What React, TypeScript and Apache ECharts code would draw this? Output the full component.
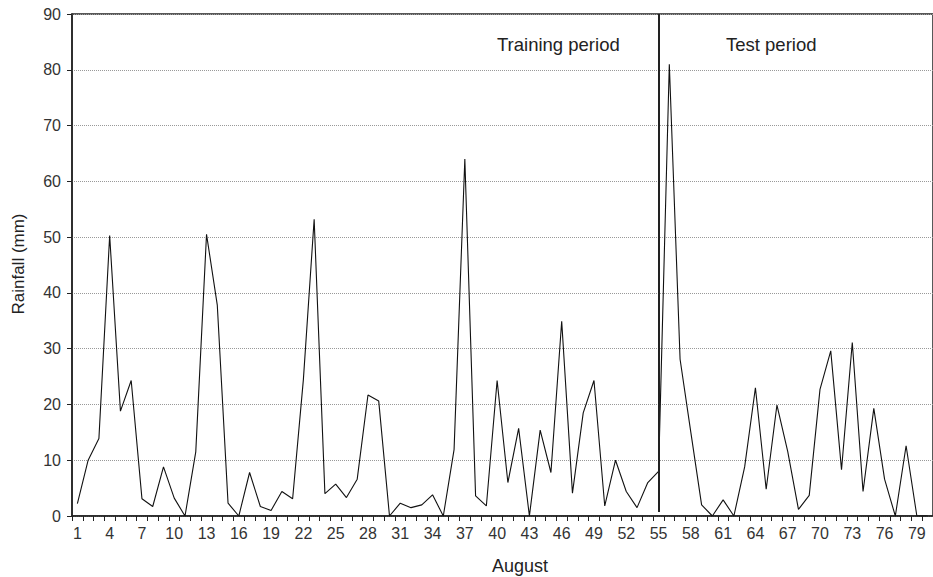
import React, { useEffect, useRef } from "react";
import * as echarts from "echarts";

const days: string[] = Array.from({ length: 80 }, (_, i) => String(i + 1));

const rainfall: number[] = [
  2.2, 10.0, 13.9, 50.3, 18.8, 24.3, 3.1, 1.7, 8.8, 3.2,
  0, 11.5, 50.5, 37.8, 2.3, 0, 7.8, 1.7, 1.0, 4.4,
  3.1, 24.5, 53.2, 4.0, 5.7, 3.3, 6.6, 21.7, 20.6, 0,
  2.3, 1.5, 2.0, 3.8, 0, 11.9, 64.0, 3.6, 1.8, 24.3,
  6.0, 15.7, 0, 15.4, 7.8, 34.9, 4.1, 18.5, 24.3, 1.8,
  10.0, 4.4, 1.5, 6.0, 8.0, 81.0, 28.1, 15.0, 2.0, 0,
  2.9, 0, 8.8, 23.0, 4.8, 19.9, 11.6, 1.2, 3.7, 22.7,
  29.6, 8.3, 31.1, 4.4, 19.3, 6.6, 0, 12.6, 0, 0,
];

const splitDay = "55";
const periodLabels = ["Training period", "Test period"];
const xTitle = "August";
const yTitle = "Rainfall (mm)";

const FONT = "Liberation Sans, Arial, sans-serif";

export default function App() {
  const ref = useRef<HTMLDivElement>(null);

  useEffect(() => {
    document.body.style.margin = "0";
    if (!ref.current) return;
    const chart = echarts.init(ref.current, null, { renderer: "svg" });
    chart.setOption({
      animation: false,
      backgroundColor: "#ffffff",
      textStyle: { fontFamily: FONT },
      grid: {
        left: 72,
        right: -4,
        top: 14,
        bottom: 61,
        show: true,
        borderColor: "#222",
        borderWidth: 1.5,
        backgroundColor: "transparent",
      },
      xAxis: {
        type: "category",
        data: days,
        boundaryGap: true,
        axisLine: { show: true, lineStyle: { color: "#222", width: 1.5 } },
        axisTick: {
          show: true,
          interval: 0,
          length: 5,
          inside: false,
          lineStyle: { color: "#222", width: 1 },
        },
        axisLabel: {
          interval: 2,
          margin: 9,
          color: "#333",
          fontSize: 16,
          fontFamily: FONT,
        },
        splitLine: { show: false },
      },
      yAxis: {
        type: "value",
        min: 0,
        max: 90,
        interval: 10,
        axisLine: { show: true, lineStyle: { color: "#222", width: 1.5 } },
        axisTick: { show: true, length: 5, lineStyle: { color: "#222" } },
        axisLabel: { margin: 11, color: "#333", fontSize: 16, fontFamily: FONT },
        splitLine: {
          show: true,
          lineStyle: { color: "#999", type: "dotted", width: 1 },
        },
      },
      series: [
        {
          type: "line",
          data: rainfall,
          symbol: "none",
          lineStyle: { color: "#111", width: 1.1 },
          silent: true,
          markLine: {
            silent: true,
            symbol: "none",
            label: { show: false },
            lineStyle: { color: "#222", width: 2, type: "solid" },
            data: [[{ coord: [splitDay, 90] }, { coord: [splitDay, 0.7] }]],
          },
        },
      ],
      graphic: [
        {
          type: "text",
          left: 497,
          top: 35,
          style: { text: periodLabels[0], fill: "#222", font: `18.5px ${FONT}` },
        },
        {
          type: "text",
          left: 726,
          top: 35,
          style: { text: periodLabels[1], fill: "#222", font: `18.5px ${FONT}` },
        },
        {
          type: "text",
          x: 520,
          y: 566,
          style: {
            text: xTitle,
            fill: "#222",
            font: `18px ${FONT}`,
            align: "center",
            verticalAlign: "middle",
          },
        },
        {
          type: "text",
          x: 18,
          y: 264,
          rotation: Math.PI / 2,
          style: {
            text: yTitle,
            fill: "#222",
            font: `17px ${FONT}`,
            align: "center",
            verticalAlign: "middle",
          },
        },
      ],
    });
    return () => chart.dispose();
  }, []);

  return <div ref={ref} style={{ width: 933, height: 577 }} />;
}
